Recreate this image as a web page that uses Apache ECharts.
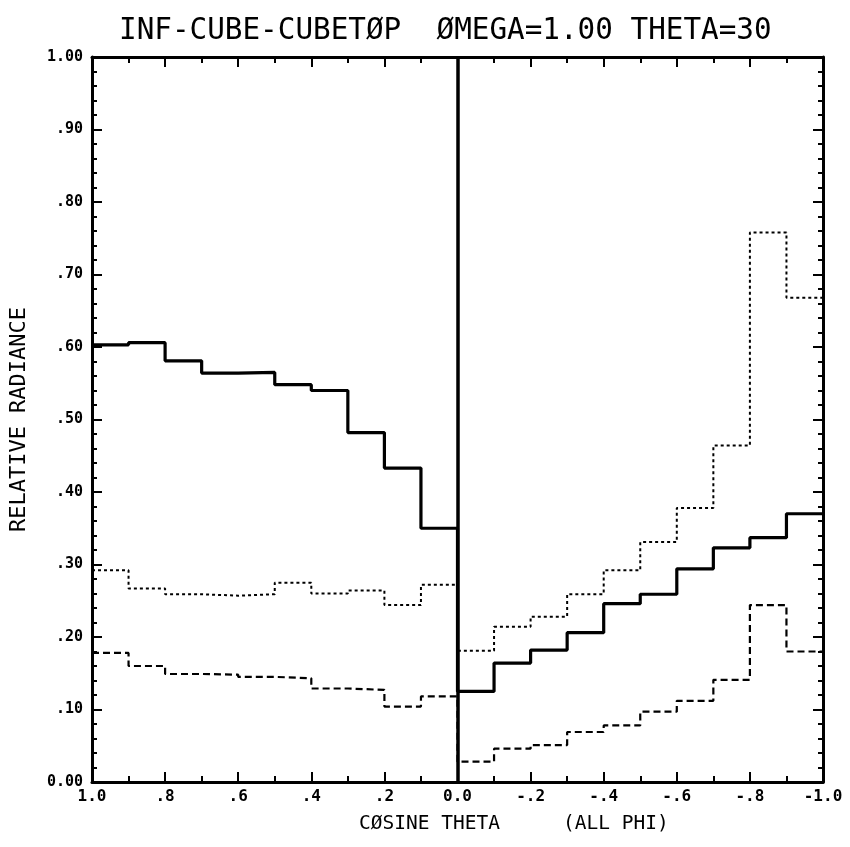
<!DOCTYPE html>
<html>
<head>
<meta charset="utf-8">
<title>INF-CUBE-CUBETØP</title>
<script src="https://cdn.jsdelivr.net/npm/echarts@6/dist/echarts.min.js"></script>
<style>
  html, body { margin: 0; padding: 0; background: #fff; }
  #chart { width: 850px; height: 847px; }
</style>
</head>
<body>
<div id="chart"></div>
<script>
// Bin left edges in cosine theta (axis runs from 1.0 down to -1.0), width 0.1
const binEdges = [1.0, 0.9, 0.8, 0.7, 0.6, 0.5, 0.4, 0.3, 0.2, 0.1,
                  0.0, -0.1, -0.2, -0.3, -0.4, -0.5, -0.6, -0.7, -0.8, -0.9];
const endEdge = -1.0;

// Relative radiance per bin, downward hemisphere (cos > 0)
const solidDown  = [0.603, 0.606, 0.581, 0.564, 0.565, 0.548, 0.540, 0.482, 0.433, 0.350];
const dottedDown = [0.292, 0.267, 0.259, 0.257, 0.259, 0.275, 0.260, 0.264, 0.244, 0.272];
const dashedDown = [0.178, 0.160, 0.149, 0.148, 0.145, 0.143, 0.129, 0.127, 0.104, 0.118];

// Relative radiance per bin, upward hemisphere (cos < 0)
const solidUp  = [0.125, 0.164, 0.182, 0.206, 0.246, 0.259, 0.294, 0.323, 0.337, 0.370];
const dottedUp = [0.181, 0.214, 0.228, 0.259, 0.292, 0.331, 0.378, 0.464, 0.758, 0.668];
const dashedUp = [0.028, 0.046, 0.051, 0.069, 0.078, 0.097, 0.112, 0.141, 0.244, 0.180];

// Build step points: each bin's left edge carries its value, closing point at the far edge
function stepPoints(down, up) {
  const vals = down.concat(up);
  const pts = binEdges.map((e, i) => [e, vals[i]]);
  pts.push([endEdge, vals[vals.length - 1]]);
  return pts;
}

// Plotter-style lettering: fixed-width glyphs
const FONT = "'DejaVu Sans Mono', 'Liberation Mono', monospace";

function yLabel(v) {
  const r = Math.round(v * 100);
  if (r === 0) return '0.00';
  if (r === 100) return '1.00';
  return '.' + String(r).padStart(2, '0');
}
function xLabel(v) {
  const r = Math.round(v * 10);
  if (r === 0) return '0.0';
  if (Math.abs(r) === 10) return (r < 0 ? '-' : '') + '1.0';
  return (r < 0 ? '-' : '') + '.' + Math.abs(r);
}

const axisLine = { show: true, onZero: false, lineStyle: { color: '#000', width: 3 } };
const xCommon = {
  type: 'value', min: -1, max: 1, interval: 0.2, inverse: true,
  axisLine: axisLine,
  axisTick: { show: true, inside: true, length: 10, lineStyle: { color: '#000', width: 2 } },
  minorTick: { show: true, splitNumber: 2, length: 6, lineStyle: { color: '#000', width: 2 } },
  splitLine: { show: false }
};
const yCommon = {
  type: 'value', min: 0, max: 1, interval: 0.1,
  axisLine: axisLine,
  axisTick: { show: true, inside: true, length: 10, lineStyle: { color: '#000', width: 2 } },
  minorTick: { show: true, splitNumber: 5, length: 5, lineStyle: { color: '#000', width: 2 } },
  splitLine: { show: false }
};

const chart = echarts.init(document.getElementById('chart'));
chart.setOption({
  animation: false,
  backgroundColor: '#fff',
  title: {
    text: 'INF-CUBE-CUBETØP  ØMEGA=1.00 THETA=30',
    left: 114, top: 12,
    textStyle: { fontFamily: FONT, fontSize: 29.3, fontWeight: 'normal', color: '#000' }
  },
  grid: { left: 90, right: 27, top: 57, bottom: 65 },
  xAxis: [
    Object.assign({}, xCommon, {
      position: 'bottom',
      axisLabel: { show: true, formatter: xLabel, margin: 7,
        fontFamily: FONT, fontSize: 16, fontWeight: 'bold', color: '#000' }
    }),
    Object.assign({}, xCommon, { position: 'top', axisLabel: { show: false } })
  ],
  yAxis: [
    Object.assign({}, yCommon, {
      position: 'left',
      name: 'RELATIVE RADIANCE', nameLocation: 'middle', nameGap: 62, nameRotate: 90,
      nameTextStyle: { fontFamily: FONT, fontSize: 22, color: '#000' },
      axisLabel: { show: true, formatter: yLabel, margin: 9,
        fontFamily: FONT, fontSize: 15, fontWeight: 'bold', color: '#000' }
    }),
    Object.assign({}, yCommon, { position: 'right', axisLabel: { show: false } })
  ],
  graphic: [
    { type: 'text', left: 359, top: 814,
      style: { text: 'CØSINE THETA', font: '19.5px ' + FONT, fill: '#000' } },
    { type: 'text', left: 563, top: 814,
      style: { text: '(ALL PHI)', font: '19.5px ' + FONT, fill: '#000' } }
  ],
  series: [
    {
      name: 'solid', type: 'line', step: 'end', symbol: 'none',
      data: stepPoints(solidDown, solidUp),
      lineStyle: { color: '#000', width: 3.2 },
      markLine: {
        silent: true, symbol: 'none', label: { show: false },
        lineStyle: { color: '#000', width: 3.5, type: 'solid' },
        data: [{ xAxis: 0 }]
      }
    },
    {
      name: 'dotted', type: 'line', step: 'end', symbol: 'none',
      data: stepPoints(dottedDown, dottedUp),
      lineStyle: { color: '#000', width: 2, type: [3, 3] }
    },
    {
      name: 'dashed', type: 'line', step: 'end', symbol: 'none',
      data: stepPoints(dashedDown, dashedUp),
      lineStyle: { color: '#000', width: 2.2, type: [7, 4] }
    }
  ]
});
</script>
</body>
</html>
